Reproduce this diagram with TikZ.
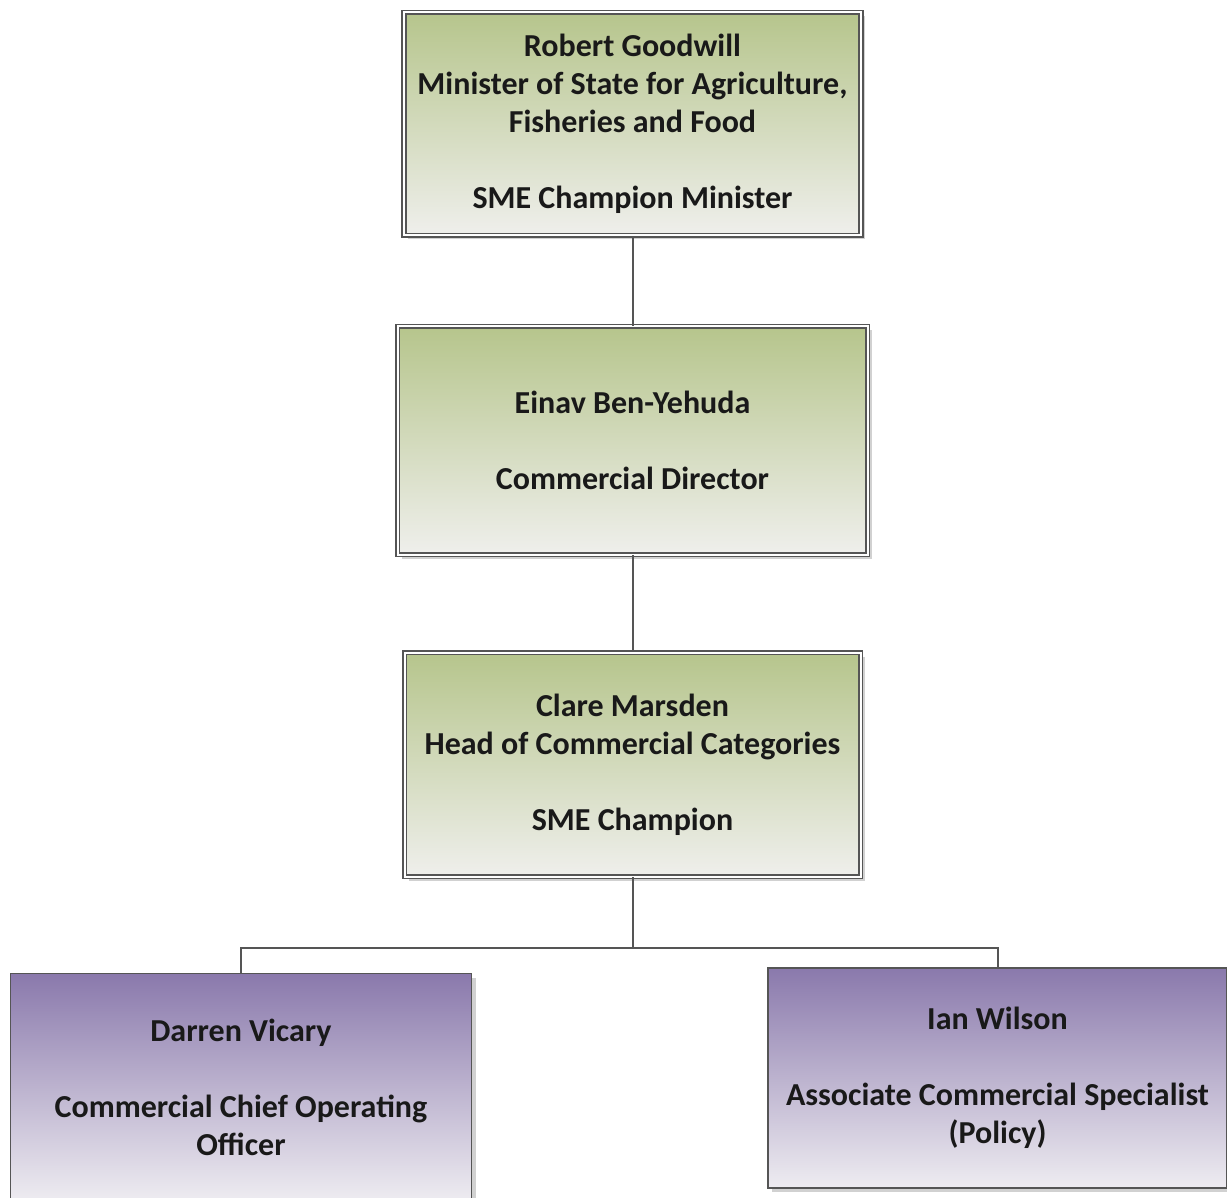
\documentclass[tikz,border=0pt]{standalone}
\usepackage{fontspec}
\setmainfont{Carlito}
\usetikzlibrary{shadows}

\definecolor{greentop}{RGB}{182,197,140}
\definecolor{greenbot}{RGB}{239,239,236}
\definecolor{purpletop}{RGB}{138,121,172}
\definecolor{purplebot}{RGB}{238,236,241}
\definecolor{boxline}{RGB}{85,85,85}
\definecolor{textgray}{RGB}{25,25,25}

\begin{document}
\begin{tikzpicture}[x=1pt, y=-1pt,
        card/.style={rectangle, align=center, inner sep=2pt, text=textgray,
            font=\fontsize{32}{38}\selectfont\bfseries,
            drop shadow={shadow xshift=4pt, shadow yshift=-4pt, opacity=0.18, fill=black}},
        greenbox/.style={card, top color=greentop, bottom color=greenbot,
            draw=boxline, line width=1.6pt, double=white, double distance=2pt},
        purplebox/.style={card, top color=purpletop, bottom color=purplebot,
            draw=boxline, line width=1.8pt},
        link/.style={draw=boxline, line width=2pt}]
                % fix the page
                \useasboundingbox (0,0) rectangle (1227,1198);

                % draw the boxes
                \node[greenbox, minimum width=457pt, minimum height=223pt] (minister) at (632.5,124)
                    {Robert Goodwill\\Minister of State for Agriculture,\\Fisheries and Food\\[38pt]SME Champion Minister};
                \node[greenbox, minimum width=470pt, minimum height=228pt] (director) at (632.5,440.5)
                    {Einav Ben-Yehuda\\[38pt]Commercial Director};
                \node[greenbox, minimum width=456pt, minimum height=224pt] (head) at (632.5,764.5)
                    {Clare Marsden\\Head of Commercial Categories\\[38pt]SME Champion};
                \node[purplebox, minimum width=461pt, minimum height=227pt] (coo) at (241,1087)
                    {Darren Vicary\\[38pt]Commercial Chief Operating\\Officer};
                \node[purplebox, minimum width=459pt, minimum height=220pt] (specialist) at (997.5,1078)
                    {Ian Wilson\\[38pt]Associate Commercial Specialist\\(Policy)};

                % draw the connectors
                \coordinate (split) at (head.south |- 0,948);
                \draw[link] (minister.south) -- (director.north);
                \draw[link] (director.south) -- (head.north);
                \draw[link] (head.south) -- (split);
                \draw[link] (coo.north) |- (split) -| (specialist.north);
\end{tikzpicture}
\end{document}
